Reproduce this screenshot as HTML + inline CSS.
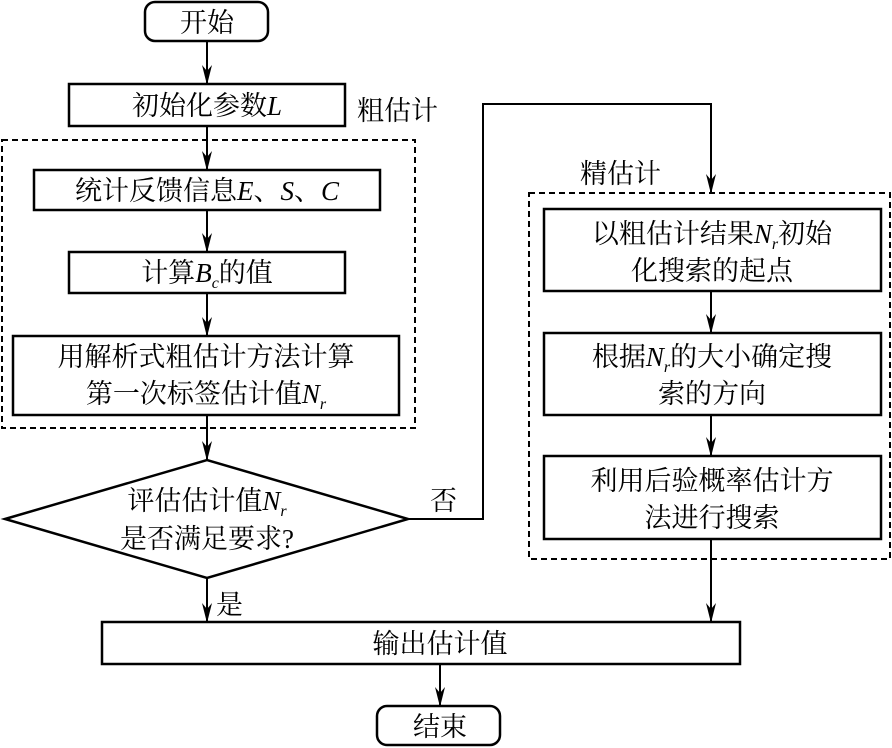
<!DOCTYPE html>
<html><head><meta charset="utf-8"><style>
html,body{margin:0;padding:0;background:#fff}
svg{display:block}
text{font-family:"Liberation Serif","Noto Serif CJK SC","Noto Sans CJK SC",serif;font-size:27px;fill:#000}
.i{font-style:italic}
</style></head><body>
<svg width="892" height="748" viewBox="0 0 892 748" xmlns="http://www.w3.org/2000/svg">
<defs><marker id="a" markerWidth="10" markerHeight="20" refX="5" refY="19" orient="auto-start-reverse" markerUnits="userSpaceOnUse" viewBox="0 0 10 20"><path d="M0,0 L5,20 L10,0 L5,6 Z" fill="#000"/></marker>
<marker id="d" markerWidth="10" markerHeight="20" refX="5" refY="19" markerUnits="userSpaceOnUse" viewBox="0 0 10 20"><path d="M0,0 L5,20 L10,0 L5,6 Z" fill="#000"/></marker></defs>
<g fill="none" stroke="#000" stroke-width="2.5">
<rect x="145" y="2" width="123" height="39" rx="10"/>
<rect x="69" y="84" width="276" height="42"/>
<rect x="34" y="170" width="346" height="40"/>
<rect x="69" y="252" width="276" height="41"/>
<rect x="13" y="336" width="386" height="79"/>
<polygon points="5,519 207,460 408,519 207,578"/>
<rect x="544" y="209" width="337" height="82"/>
<rect x="544" y="333" width="337" height="82"/>
<rect x="544" y="456" width="337" height="83"/>
<rect x="102" y="622" width="638" height="42"/>
<rect x="377" y="706" width="123" height="39" rx="10"/>
</g>
<g fill="none" stroke="#000" stroke-width="2" stroke-dasharray="6,4">
<rect x="2" y="140" width="413" height="288"/>
<rect x="529" y="193" width="361" height="366"/>
</g>
<g fill="none" stroke="#000" stroke-width="2">
<line x1="207" y1="41" x2="207" y2="84" marker-end="url(#d)"/>
<line x1="207" y1="126" x2="207" y2="170" marker-end="url(#d)"/>
<line x1="207" y1="210" x2="207" y2="252" marker-end="url(#d)"/>
<line x1="207" y1="293" x2="207" y2="336" marker-end="url(#d)"/>
<line x1="207" y1="415" x2="207" y2="460" marker-end="url(#d)"/>
<line x1="207" y1="578" x2="207" y2="622" marker-end="url(#d)"/>
<polyline points="408,519 483,519 483,104 711,104 711,193" marker-end="url(#d)"/>
<line x1="711" y1="291" x2="711" y2="333" marker-end="url(#d)"/>
<line x1="711" y1="415" x2="711" y2="456" marker-end="url(#d)"/>
<line x1="711" y1="539" x2="711" y2="622" marker-end="url(#d)"/>
<line x1="440" y1="664" x2="440" y2="706" marker-end="url(#d)"/>
</g>
<g text-anchor="middle">
<text x="207" y="32">开始</text>
<text x="207" y="115">初始化参数<tspan class="i">L</tspan></text>
<text x="207" y="200">统计反馈信息<tspan class="i">E</tspan>、<tspan class="i">S</tspan>、<tspan class="i">C</tspan></text>
<text x="207" y="282">计算<tspan class="i">B</tspan><tspan class="i" font-size="16" dy="6">c</tspan><tspan dy="-6">的值</tspan></text>
<text x="206" y="366">用解析式粗估计方法计算</text>
<text x="206" y="403">第一次标签估计值<tspan class="i">N</tspan><tspan class="i" font-size="16" dy="6">r</tspan></text>
<text x="207" y="510">评估估计值<tspan class="i">N</tspan><tspan class="i" font-size="16" dy="6">r</tspan></text>
<text x="207" y="548">是否满足要求?</text>
<text x="712" y="243">以粗估计结果<tspan class="i">N</tspan><tspan class="i" font-size="16" dy="6">r</tspan><tspan dy="-6">初始</tspan></text>
<text x="712" y="280">化搜索的起点</text>
<text x="712" y="366">根据<tspan class="i">N</tspan><tspan class="i" font-size="16" dy="6">r</tspan><tspan dy="-6">的大小确定搜</tspan></text>
<text x="712" y="403">索的方向</text>
<text x="712" y="490">利用后验概率估计方</text>
<text x="712" y="527">法进行搜索</text>
<text x="440" y="653">输出估计值</text>
<text x="440" y="736">结束</text>
</g>
<text x="357" y="120">粗估计</text>
<text x="580" y="183">精估计</text>
<text x="430" y="510">否</text>
<text x="216" y="614">是</text>
</svg>
</body></html>
